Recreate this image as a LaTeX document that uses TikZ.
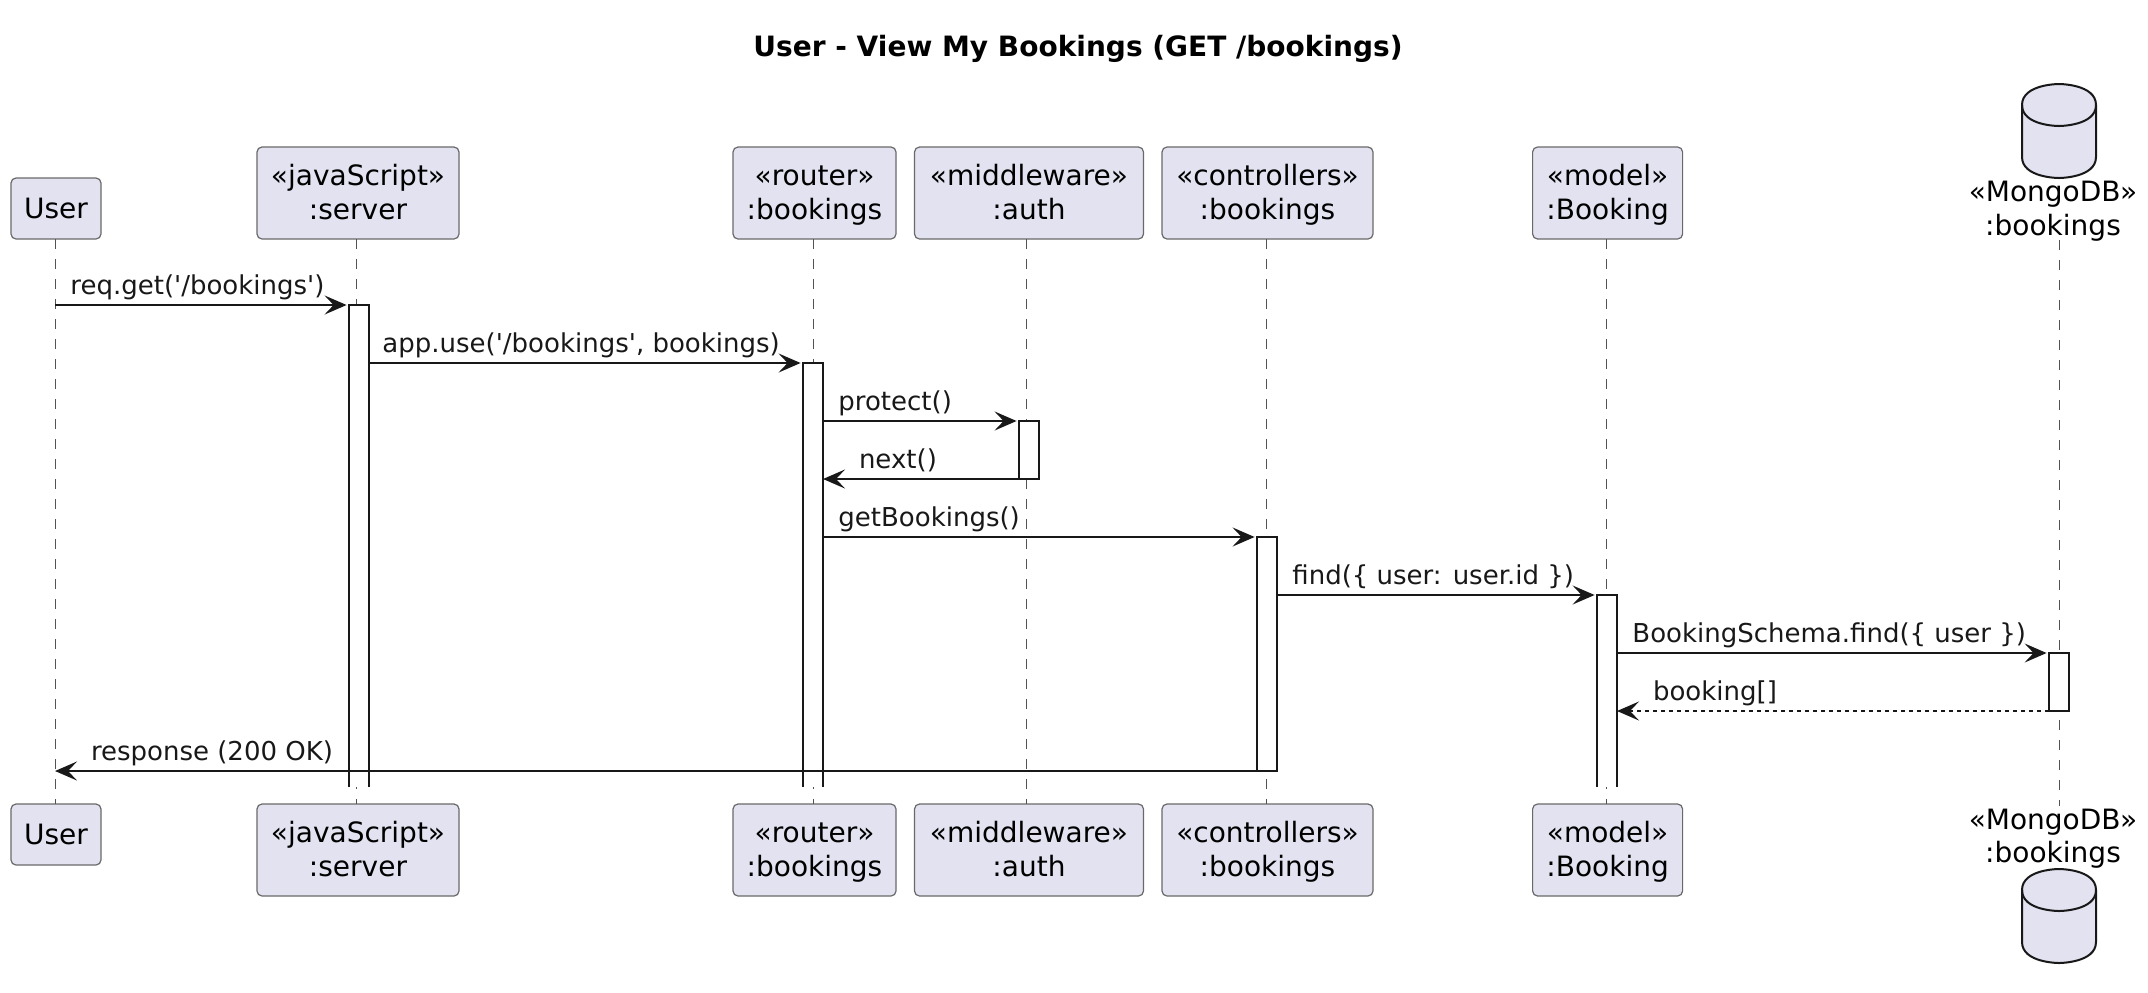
\documentclass[tikz,border=0pt]{standalone}
\usepackage{fontspec}
\setmainfont{DejaVu Sans}
\usetikzlibrary{arrows.meta}
\definecolor{seqline}{HTML}{181818}
\definecolor{seqfill}{HTML}{E2E2F0}
\newcommand{\partline}[1]{\rule[-3.6pt]{0pt}{16.8pt}#1}
\newcommand{\parttext}[2]{\partline{#1}\\\partline{#2}}
\tikzset{
  partbox/.style={draw=seqline!65,line width=0.6pt,fill=seqfill,rounded corners=2.5pt,align=center,
    font=\fontsize{14}{16.8}\selectfont,inner sep=0pt,outer sep=0pt,minimum height=46pt},
  userbox/.style={partbox,minimum height=30.5pt},
  dblabel/.style={align=center,font=\fontsize{14}{16.8}\selectfont,inner sep=0pt},
  lifeline/.style={seqline!75,line width=0.5pt,dash pattern=on 5pt off 5pt},
  actbar/.style={fill=white,inner sep=0pt,outer sep=0pt,minimum width=10pt,anchor=north},
  actline/.style={seqline,line width=1pt},
  msg/.style={seqline,line width=1pt,-{Stealth[length=11pt,width=9.5pt,inset=4.5pt]},shorten >=1.2pt},
  backmsg/.style={msg,shorten >=0pt},
  ret/.style={backmsg,dash pattern=on 2pt off 2pt},
  msglabel/.style={anchor=base west,inner sep=0pt,font=\fontsize{13}{15}\selectfont,text=seqline},
  fwdlabel/.style={msglabel,pos=0,xshift=7.2pt,yshift=5.5pt},
  backlabel/.style={msglabel,pos=1,xshift=17.5pt,yshift=5.5pt},
  dbcyl/.pic={
    \draw[seqline,fill=seqfill,line width=1pt]
      (-37,21) .. controls (-37,0) and (0,0) .. (0,0)
      .. controls (0,0) and (37,0) .. (37,21)
      -- (37,73) .. controls (37,94) and (0,94) .. (0,94)
      .. controls (0,94) and (-37,94) .. (-37,73) -- cycle;
    \draw[seqline,line width=1pt]
      (-37,21) .. controls (-37,42) and (0,42) .. (0,42)
      .. controls (0,42) and (37,42) .. (37,21);
  }
}
\begin{document}
\begin{tikzpicture}[x=0.5pt,y=-0.5pt]
  \useasboundingbox (0,0) rectangle (2148,992);
  \node[inner sep=0pt,font=\bfseries\fontsize{14}{16}\selectfont] (title) at (1078,48.5) {User - View My Bookings (GET /bookings)};

  \node[userbox,anchor=south,minimum width=45pt] (usertop) at (56,239) {\partline{User}};
  \node[partbox,anchor=south,minimum width=101pt] (servertop) at (358,239) {\parttext{«javaScript»}{:server}};
  \node[partbox,anchor=south,minimum width=81.5pt] (routertop) at (814.5,239) {\parttext{«router»}{:bookings}};
  \node[partbox,anchor=south,minimum width=114.5pt] (authtop) at (1029,239) {\parttext{«middleware»}{:auth}};
  \node[partbox,anchor=south,minimum width=105.5pt] (ctrltop) at (1267.5,239) {\parttext{«controllers»}{:bookings}};
  \node[partbox,anchor=south,minimum width=75pt] (modeltop) at (1607.6,239) {\parttext{«model»}{:Booking}};
  \node[dblabel] (dbtop) at (2053,209) {\parttext{«MongoDB»}{:bookings}};
  \pic at (2059,84) {dbcyl};
  \coordinate (dbstart) at (2059,240);

  \node[userbox,anchor=north,minimum width=45pt] (userbot) at (56,804) {\partline{User}};
  \node[partbox,anchor=north,minimum width=101pt] (serverbot) at (358,804) {\parttext{«javaScript»}{:server}};
  \node[partbox,anchor=north,minimum width=81.5pt] (routerbot) at (814.5,804) {\parttext{«router»}{:bookings}};
  \node[partbox,anchor=north,minimum width=114.5pt] (authbot) at (1029,804) {\parttext{«middleware»}{:auth}};
  \node[partbox,anchor=north,minimum width=105.5pt] (ctrlbot) at (1267.5,804) {\parttext{«controllers»}{:bookings}};
  \node[partbox,anchor=north,minimum width=75pt] (modelbot) at (1607.6,804) {\parttext{«model»}{:Booking}};
  \node[dblabel] (dbbot) at (2053,836.5) {\parttext{«MongoDB»}{:bookings}};
  \pic at (2059,869) {dbcyl};
  \coordinate (dbend) at (2059,806);

  \begin{scope}[lifeline]
    \draw ([xshift=-0.5pt]usertop.south) -- ([xshift=-0.5pt]userbot.north);
    \draw ([xshift=-0.65pt]servertop.south) -- ([xshift=-0.65pt]serverbot.north);
    \draw ([xshift=-0.75pt]routertop.south) -- ([xshift=-0.75pt]routerbot.north);
    \draw ([xshift=-1.15pt]authtop.south) -- ([xshift=-1.15pt]authbot.north);
    \draw ([xshift=-0.4pt]ctrltop.south) -- ([xshift=-0.4pt]ctrlbot.north);
    \draw ([xshift=-0.5pt]modeltop.south) -- ([xshift=-0.5pt]modelbot.north);
    \draw (dbstart) -- (dbend);
  \end{scope}

  \node[actbar,minimum height=241pt] (barserver) at (359,305) {};
  \node[actbar,minimum height=212pt] (barrouter) at (813,363) {};
  \node[actbar,minimum height=29pt] (barauth) at (1029,421) {};
  \node[actbar,minimum height=117pt] (barctrl) at (1267,537) {};
  \node[actbar,minimum height=96pt] (barmodel) at (1607,595) {};
  \node[actbar,minimum height=29pt] (bardb) at (2059,653) {};
  \begin{scope}[actline]
    \draw (barserver.south west) |- (barserver.north east) -- (barserver.south east);
    \draw (barrouter.south west) |- (barrouter.north east) -- (barrouter.south east);
    \draw (barauth.south west) rectangle (barauth.north east);
    \draw (barctrl.south west) rectangle (barctrl.north east);
    \draw (barmodel.south west) |- (barmodel.north east) -- (barmodel.south east);
    \draw (bardb.south west) rectangle (bardb.north east);
  \end{scope}

  \coordinate (userfrom) at (55,305);
  \coordinate (userto) at (55,771);
  \draw[msg] (userfrom) -- (barserver.north west) node[fwdlabel] (m1) {req.get(\textquotesingle/bookings\textquotesingle)};
  \draw[msg] (barserver.east |- barrouter.north) -- (barrouter.north west) node[fwdlabel,xshift=-1pt] (m2) {app.use(\textquotesingle/bookings\textquotesingle, bookings)};
  \draw[msg] (barrouter.east |- barauth.north) -- (barauth.north west) node[fwdlabel] (m3) {protect()};
  \draw[backmsg] (barauth.south west) -- (barrouter.east |- barauth.south) node[backlabel] (m4) {next()};
  \draw[msg] (barrouter.east |- barctrl.north) -- (barctrl.north west) node[fwdlabel] (m5) {getBookings()};
  \draw[msg] (barctrl.east |- barmodel.north) -- (barmodel.north west) node[fwdlabel] (m6) {find(\{ user: user.id \})};
  \draw[msg] (barmodel.east |- bardb.north) -- (bardb.north west) node[fwdlabel] (m7) {BookingSchema.find(\{ user \})};
  \draw[ret] (bardb.south west) -- (barmodel.east |- bardb.south) node[backlabel] (m8) {booking[]};
  \draw[backmsg] (barctrl.south west) -- (userto) node[backlabel] (m9) {response (200 OK)};
\end{tikzpicture}
\end{document}
